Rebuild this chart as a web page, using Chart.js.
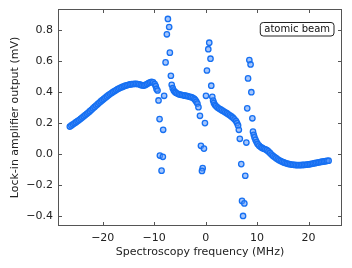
<!DOCTYPE html>
<html>
<head>
<meta charset="utf-8">
<script src="https://cdn.jsdelivr.net/npm/chart.js@4.4.1/dist/chart.umd.min.js"></script>
<style>
  html, body { margin: 0; padding: 0; background: #fff; }
  #wrap { width: 352px; height: 268px; }
</style>
</head>
<body>
<div id="wrap"><canvas id="chart" width="352" height="268"></canvas></div>
<script>
// Scan data: spectroscopy frequency (MHz) vs lock-in output (mV)
// background slope below the first line
const freqMHz = [
  -26.4, -26.1, -25.8, -25.5, -25.2, -24.9, -24.6, -24.3, -24.0, -23.7,
  -23.4, -23.1, -22.8, -22.5, -22.2, -21.9, -21.6, -21.3, -21.0, -20.7,
  -20.4, -20.1, -19.8, -19.5, -19.2, -18.9, -18.6, -18.3, -18.0, -17.7,
  -17.4, -17.1, -16.8, -16.5, -16.2, -15.9, -15.6, -15.3, -15.0, -14.7,
  -14.4, -14.1, -13.8, -13.5, -13.2, -12.9, -12.6, -12.3, -12.0, -11.7,
  -11.4, -11.1, -10.8, -10.5, -10.2, -9.9, -9.7, -9.55, -9.35,
  // first resonance
  -7.34, -7.09, -7.54, -6.96, -7.79, -6.76, -8.07, -9.16, -8.96, -8.26,
  -8.90, -8.32, -8.57,
  // plateau between lines
  -6.6, -6.4, -6.2, -6.0, -5.8, -5.5, -5.2, -4.9, -4.6, -4.3,
  -4.0, -3.7, -3.4, -3.1, -2.8, -2.5, -2.2, -2.0, -1.8, -1.6,
  // second resonance
  0.70, 0.51, 0.94, 0.25, 1.09, 0.06, 1.29, -1.40, -1.11, -0.14,
  -0.92, -0.33, -0.58, -0.72,
  // slope between lines
  1.45, 1.6, 1.8, 2.0, 2.3, 2.6, 2.9, 3.2, 3.5, 3.8,
  4.1, 4.4, 4.7, 5.0, 5.3, 5.6, 5.9, 6.1, 6.3, 6.45,
  // third resonance
  8.49, 8.73, 8.24, 8.88, 8.08, 9.08, 6.64, 7.91, 6.92, 7.70,
  7.07, 7.52, 7.27,
  // tail
  9.2, 9.35, 9.5, 9.7, 9.9, 10.1, 10.4, 10.7, 11.0, 11.3,
  11.6, 11.9, 12.2, 12.5, 12.8, 13.1, 13.4, 13.7, 14.0, 14.3,
  14.6, 14.9, 15.2, 15.5, 15.8, 16.1, 16.4, 16.7, 17.0, 17.3,
  17.6, 17.9, 18.2, 18.5, 18.8, 19.1, 19.4, 19.7, 20.0, 20.3,
  20.6, 20.9, 21.2, 21.5, 21.8, 22.1, 22.4, 22.7, 23.0, 23.3,
  23.6, 23.9
];
const outputMv = [
  0.178, 0.185, 0.192, 0.199, 0.206, 0.213, 0.220, 0.228, 0.236, 0.244,
  0.252, 0.260, 0.268, 0.277, 0.286, 0.295, 0.304, 0.313, 0.322, 0.331,
  0.340, 0.348, 0.356, 0.364, 0.372, 0.380, 0.387, 0.394, 0.401, 0.407,
  0.413, 0.419, 0.424, 0.429, 0.433, 0.437, 0.441, 0.444, 0.447, 0.449,
  0.451, 0.452, 0.453, 0.453, 0.452, 0.450, 0.446, 0.443, 0.442, 0.446,
  0.452, 0.458, 0.463, 0.466, 0.463, 0.452, 0.438, 0.420, 0.410,
  0.871, 0.819, 0.772, 0.654, 0.591, 0.505, 0.376, 0.346, 0.226, 0.157,
  -0.009, -0.017, -0.106,
  0.447, 0.425, 0.410, 0.402, 0.396, 0.390, 0.386, 0.383, 0.381, 0.379,
  0.377, 0.375, 0.373, 0.370, 0.367, 0.363, 0.356, 0.348, 0.338, 0.326,
  0.718, 0.676, 0.615, 0.539, 0.441, 0.376, 0.370, 0.303, 0.247, 0.200,
  0.054, 0.036, -0.090, -0.108,
  0.345, 0.330, 0.318, 0.310, 0.301, 0.294, 0.288, 0.282, 0.276, 0.270,
  0.264, 0.257, 0.250, 0.243, 0.235, 0.225, 0.213, 0.200, 0.185, 0.157,
  0.606, 0.578, 0.488, 0.399, 0.295, 0.231, 0.099, 0.075, -0.064, -0.139,
  -0.301, -0.317, -0.398,
  0.145, 0.125, 0.108, 0.092, 0.078, 0.066, 0.055, 0.046, 0.040, 0.035,
  0.031, 0.026, 0.018, 0.008, -0.002, -0.011, -0.019, -0.026, -0.033, -0.039,
  -0.044, -0.049, -0.053, -0.057, -0.060, -0.063, -0.065, -0.067, -0.068, -0.069,
  -0.070, -0.070, -0.070, -0.070, -0.069, -0.069, -0.068, -0.067, -0.066, -0.064,
  -0.062, -0.060, -0.058, -0.056, -0.054, -0.052, -0.050, -0.048, -0.047, -0.045,
  -0.043, -0.042
];

const xTicks = [-20, -10, 0, 10, 20];
const yTicks = [-0.4, -0.2, 0.0, 0.2, 0.4, 0.6, 0.8];
const legendText = "atomic beam";

const points = freqMHz.map((f, i) => ({ x: f, y: outputMv[i] }));
const minus = s => String(s).replace("-", "\u2212");
const FONT = "'DejaVu Sans', sans-serif";

// frame + inward ticks on all four sides, matplotlib style
const framePlugin = {
  id: "frame",
  afterDraw(c) {
    const { ctx, chartArea: a, scales } = c;
    ctx.save();
    ctx.strokeStyle = "#555";
    ctx.lineWidth = 1;
    ctx.strokeRect(a.left + 0.5, a.top + 0.5, a.right - a.left - 1, a.bottom - a.top - 1);
    const len = 4;
    ctx.beginPath();
    xTicks.forEach(v => {
      const px = Math.round(scales.x.getPixelForValue(v)) + 0.5;
      ctx.moveTo(px, a.bottom); ctx.lineTo(px, a.bottom - len);
      ctx.moveTo(px, a.top); ctx.lineTo(px, a.top + len);
    });
    yTicks.forEach(v => {
      const py = Math.round(scales.y.getPixelForValue(v)) + 0.5;
      ctx.moveTo(a.left, py); ctx.lineTo(a.left + len, py);
      ctx.moveTo(a.right, py); ctx.lineTo(a.right - len, py);
    });
    ctx.stroke();

    // legend box (text only)
    ctx.font = "10px " + FONT;
    const w = ctx.measureText(legendText).width + 8;
    const bh = 13.5;
    const bx = a.right - 8.5 - w, by = a.top + 13;
    ctx.beginPath();
    ctx.roundRect(bx + 0.5, by + 0.5, w, bh, 3);
    ctx.fillStyle = "#fff";
    ctx.fill();
    ctx.strokeStyle = "#222";
    ctx.stroke();
    ctx.fillStyle = "#111";
    ctx.textBaseline = "middle";
    ctx.fillText(legendText, bx + 4.5, by + bh / 2 + 1);
    ctx.restore();
  }
};

new Chart(document.getElementById("chart"), {
  type: "scatter",
  data: {
    datasets: [{
      data: points,
      pointRadius: 2.7,
      pointBorderWidth: 1.3,
      borderColor: "#1670f2",
      backgroundColor: "rgba(90,150,250,0.55)",
      pointHoverRadius: 2.7
    }]
  },
  options: {
    responsive: false,
    animation: false,
    layout: { padding: { left: 9, right: 10, top: 9, bottom: 0 } },
    plugins: { legend: { display: false }, tooltip: { enabled: false } },
    scales: {
      x: {
        min: -28.7, max: 26.5,
        afterBuildTicks: s => { s.ticks = xTicks.map(v => ({ value: v })); },
        afterFit: s => { s.height = 42; s.paddingLeft = 0; s.paddingRight = 0; },
        grid: { display: false, drawTicks: false },
        border: { display: false },
        ticks: {
          padding: 6, color: "#222", font: { family: FONT, size: 11 },
          maxRotation: 0, callback: v => minus(v)
        },
        title: {
          display: true, text: "Spectroscopy frequency (MHz)", color: "#222",
          font: { family: FONT, size: 11 }, padding: { top: 2, bottom: 9 }
        }
      },
      y: {
        min: -0.4626, max: 0.935,
        afterBuildTicks: s => { s.ticks = yTicks.map(v => ({ value: v })); },
        afterFit: s => { s.width = 49; s.paddingTop = 0; s.paddingBottom = 0; },
        grid: { display: false, drawTicks: false },
        border: { display: false },
        ticks: {
          padding: 5, color: "#222", font: { family: FONT, size: 11 },
          callback: v => minus(v.toFixed(1))
        },
        title: {
          display: true, text: "Lock-in amplifier output (mV)", color: "#222",
          font: { family: FONT, size: 11 }, padding: { top: 0, bottom: 4 }
        }
      }
    }
  },
  plugins: [framePlugin]
});
</script>
</body>
</html>
